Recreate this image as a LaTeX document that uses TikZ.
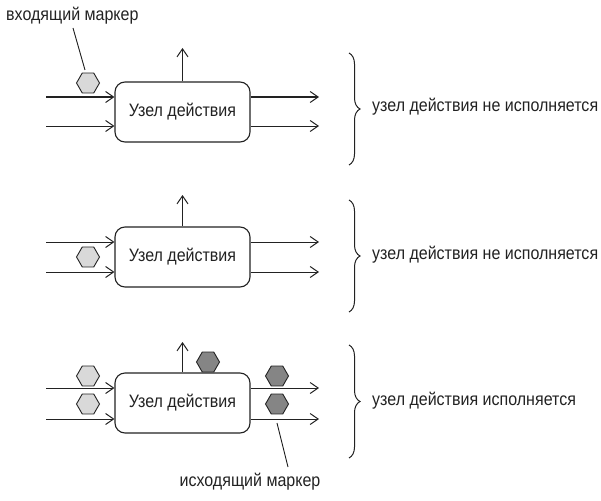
\documentclass[tikz,border=0pt]{standalone}
\usepackage{fontspec}
\setmainfont{Liberation Sans}[FakeStretch=0.89]
\usetikzlibrary{arrows.meta,decorations.pathreplacing}
\definecolor{ink}{HTML}{222222}
\definecolor{lighttok}{HTML}{D9D9D9}
\definecolor{darktok}{HTML}{858585}
\tikzset{
  actbox/.style={draw=ink, line width=1.1pt, rounded corners=10pt, minimum width=135pt, minimum height=60pt, inner sep=0pt, font=\fontsize{18}{20}\selectfont, text=ink},
  arr/.style={draw=ink, line width=1pt, -{Straight Barb[length=8pt,width=11pt,line width=1pt]}},
  tok/.style={circle, minimum size=23pt, inner sep=0pt},
  hexline/.style={draw=ink, line width=0.9pt, line join=miter},
  ltok/.style={hexline, fill=lighttok},
  dtok/.style={hexline, fill=darktok},
  lbl/.style={font=\fontsize{18}{20}\selectfont, text=ink, inner sep=0pt},
  pointer/.style={draw=ink, line width=0.9pt},
  brc/.style={draw=ink, line width=1pt, decorate, decoration={brace, amplitude=11pt, aspect=0.5}},
}
\newcommand\hexshape[2]{\path[#2] (#1) +(0:11.5) -- +(60:11.5) -- +(120:11.5) -- +(180:11.5) -- +(240:11.5) -- +(300:11.5) -- cycle;}
\begin{document}
\begin{tikzpicture}[x=1pt, y=-1pt]
\useasboundingbox (0,0) rectangle (601,500);

% ---------- Row 1 ----------
\node[actbox] (b1) at (182.5,112) {Узел действия};
\coordinate (i1a) at (46,97);
\coordinate (i1b) at (46,126);
\coordinate (o1a) at (319,97);
\coordinate (o1b) at (319,126);
\coordinate (u1) at (182.5,48);
\draw[arr] (i1a) -- (i1a -| b1.west);
\draw[arr] (i1b) -- (i1b -| b1.west);
\draw[arr] (o1a -| b1.east) -- (o1a);
\draw[arr] (o1b -| b1.east) -- (o1b);
\draw[arr] (b1.north) -- (u1);
\node[tok] (h1) at (88,83) {};
\hexshape{h1}{ltok}
\node[lbl, anchor=west] (lin) at (6,16) {входящий маркер};
\coordinate (pin1) at (73,28);
\coordinate (pin1e) at (85,70);
\draw[pointer] (pin1) -- (pin1e);
\coordinate (br1t) at (349,53);
\coordinate (br1b) at (349,165);
\draw[brc] (br1t) -- (br1b);
\node[lbl, anchor=west] (t1) at (372,107) {узел действия не исполняется};

% ---------- Row 2 ----------
\node[actbox] (b2) at (182.5,257) {Узел действия};
\coordinate (i2a) at (46,242);
\coordinate (i2b) at (46,272);
\coordinate (o2a) at (319,242);
\coordinate (o2b) at (319,272);
\coordinate (u2) at (182.5,195);
\draw[arr] (i2a) -- (i2a -| b2.west);
\draw[arr] (i2b) -- (i2b -| b2.west);
\draw[arr] (o2a -| b2.east) -- (o2a);
\draw[arr] (o2b -| b2.east) -- (o2b);
\draw[arr] (b2.north) -- (u2);
\node[tok] (h2) at (88,257) {};
\hexshape{h2}{ltok}
\coordinate (br2t) at (349,200);
\coordinate (br2b) at (349,312);
\draw[brc] (br2t) -- (br2b);
\node[lbl, anchor=west] (t2) at (372,255) {узел действия не исполняется};

% ---------- Row 3 ----------
\node[actbox] (b3) at (182.5,403) {Узел действия};
\coordinate (i3a) at (46,388);
\coordinate (i3b) at (46,419);
\coordinate (o3a) at (319,388);
\coordinate (o3b) at (319,419);
\coordinate (u3) at (182.5,342);
\draw[arr] (i3a) -- (i3a -| b3.west);
\draw[arr] (i3b) -- (i3b -| b3.west);
\draw[arr] (o3a -| b3.east) -- (o3a);
\draw[arr] (o3b -| b3.east) -- (o3b);
\draw[arr] (b3.north) -- (u3);
\node[tok] (h3a) at (88,376) {};
\node[tok] (h3b) at (88,404) {};
\node[tok] (h3c) at (208,362) {};
\node[tok] (h3d) at (277,376) {};
\node[tok] (h3e) at (277,404) {};
\hexshape{h3a}{ltok}
\hexshape{h3b}{ltok}
\hexshape{h3c}{dtok}
\hexshape{h3d}{dtok}
\hexshape{h3e}{dtok}
\node[lbl] (lout) at (250,482) {исходящий маркер};
\coordinate (pin3) at (277,423);
\coordinate (pin3e) at (288,467);
\draw[pointer] (pin3) -- (pin3e);
\coordinate (br3t) at (349,345);
\coordinate (br3b) at (349,458);
\draw[brc] (br3t) -- (br3b);
\node[lbl, anchor=west] (t3) at (372,401) {узел действия исполняется};
\end{tikzpicture}
\end{document}
